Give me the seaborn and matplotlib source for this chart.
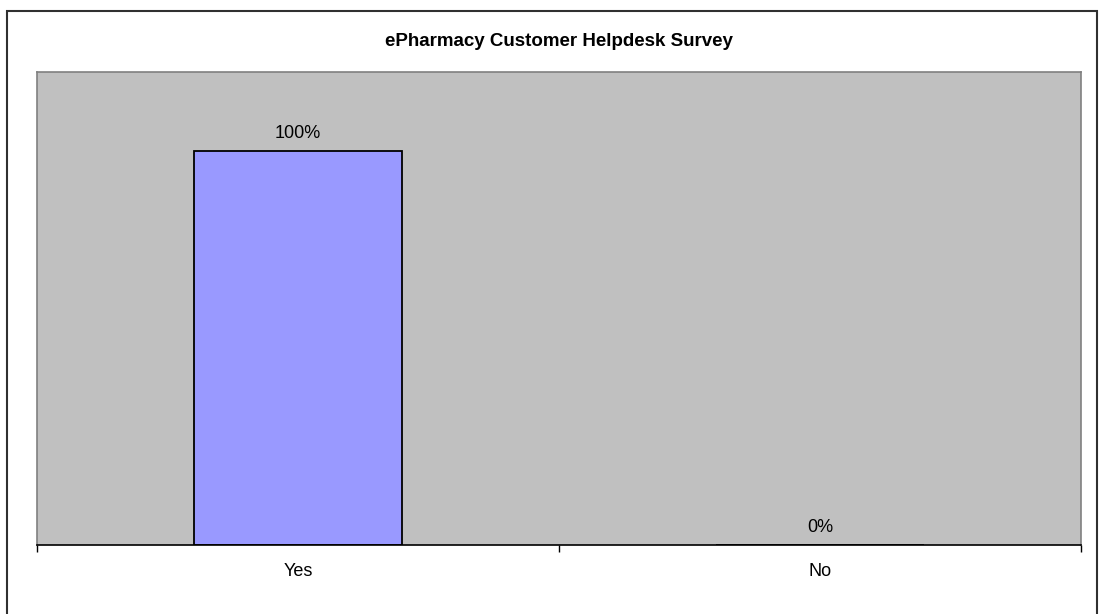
import matplotlib
matplotlib.use("Agg")
import matplotlib.pyplot as plt
from matplotlib.patches import Rectangle
import seaborn as sns
import pandas as pd

# Survey answers and share of respondents (%)
answers = ["Yes", "No"]
shares = [100, 0]
value_labels = ["100%", "0%"]
title = "ePharmacy Customer Helpdesk Survey"

sns.set_theme(style="white")
plt.rcParams["font.family"] = ["Liberation Sans", "DejaVu Sans"]

W, H = 1099, 614
fig = plt.figure(figsize=(W / 100, H / 100), dpi=100)
fig.patch.set_facecolor("white")

# plot area in pixel coordinates
left, top, right, bottom = 37, 72, 1081, 545
ax = fig.add_axes([left / W, 1 - bottom / H, (right - left) / W, (bottom - top) / H])
ax.set_facecolor("#C0C0C0")

df = pd.DataFrame({"answer": answers, "share": shares})
sns.barplot(data=df, x="answer", y="share", ax=ax, color="#9999FF",
            width=0.4, edgecolor="black", linewidth=1.3, saturation=1)

ax.set_xlim(-0.5, len(answers) - 0.5)
ax.set_ylim(0, 120)
ax.set_xlabel("")
ax.set_ylabel("")
ax.set_yticks([])

# category labels without marks, boundary marks as minor ticks
ax.set_xticks(range(len(answers)))
ax.set_xticklabels(answers, fontsize=13, color="black")
ax.tick_params(axis="x", which="major", length=0, pad=13)
ax.set_xticks([i - 0.5 for i in range(len(answers) + 1)], minor=True)
ax.tick_params(axis="x", which="minor", length=5, width=1, color="black",
               direction="out", bottom=True)

for side in ["left", "top", "right"]:
    ax.spines[side].set_color("#808080")
    ax.spines[side].set_linewidth(1.2)
ax.spines["bottom"].set_color("black")
ax.spines["bottom"].set_linewidth(1.2)

for i, (v, lab) in enumerate(zip(shares, value_labels)):
    ax.annotate(lab, (i, v), xytext=(0, 6.5), textcoords="offset points",
                ha="center", va="bottom", fontsize=13, color="black")

fig.text((left + right) / 2 / W, 1 - 42 / H, title, ha="center", va="center",
         fontsize=13.5, fontweight="bold", color="black")

# chart frame
fig.patches.append(Rectangle((7 / W, -0.01), (1097 - 7) / W, 1.01 - 11 / H,
                             transform=fig.transFigure, fill=False,
                             edgecolor="#303030", linewidth=1.5))

fig.savefig("out.png", dpi=100, facecolor="white")
